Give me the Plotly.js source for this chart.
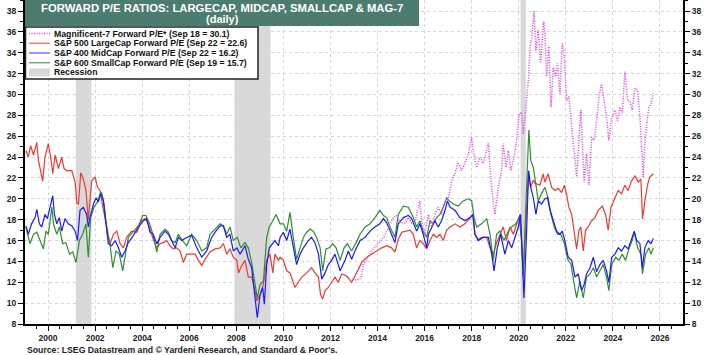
<!DOCTYPE html>
<html><head><meta charset="utf-8">
<script src="https://cdn.plot.ly/plotly-3.0.1.min.js"></script>
<style>html,body{margin:0;padding:0;background:#fff;}#chart{width:717px;height:355px;}</style>
</head><body><div id="chart"></div>
<script>
// ---------- DATA ----------
const chartTitle = "FORWARD P/E RATIOS: LARGECAP, MIDCAP, SMALLCAP & MAG-7";
const chartSubtitle = "(daily)";
const sourceText = "Source: LSEG Datastream and © Yardeni Research, and Standard & Poor's.";
const legendLabels = [
  "Magnificent-7 Forward P/E* (Sep 18 = 30.1)",
  "S&P 500 LargeCap Forward P/E (Sep 22 = 22.6)",
  "S&P 400 MidCap Forward P/E (Sep 22 = 16.2)",
  "S&P 600 SmallCap Forward P/E (Sep 19 = 15.7)",
  "Recession"
];
const recessionStart = [2001.18, 2007.92, 2020.08];
const recessionEnd   = [2001.84, 2009.45, 2020.30];

const spxYears = [1999.06,1999.16,1999.26,1999.38,1999.52,1999.59,1999.77,1999.87,2000.01,2000.11,2000.20,2000.30,2000.44,2000.58,2000.68,2000.79,2001.01,2001.15,2001.22,2001.29,2001.39,2001.50,2001.61,2001.71,2001.85,2002.00,2002.10,2002.21,2002.28,2002.46,2002.56,2002.63,2002.78,2002.92,2003.06,2003.20,2003.34,2003.55,2003.77,2003.98,2004.12,2004.26,2004.40,2004.47,2004.62,2004.76,2004.90,2005.04,2005.18,2005.32,2005.47,2005.61,2005.75,2005.89,2006.03,2006.25,2006.39,2006.53,2006.67,2006.88,2007.10,2007.31,2007.45,2007.59,2007.73,2007.87,2008.02,2008.09,2008.23,2008.37,2008.51,2008.65,2008.80,2008.87,2009.01,2009.15,2009.29,2009.43,2009.55,2009.64,2009.79,2009.86,2010.00,2010.14,2010.28,2010.49,2010.63,2010.78,2010.99,2011.20,2011.34,2011.49,2011.58,2011.67,2011.77,2011.91,2012.05,2012.19,2012.33,2012.48,2012.69,2012.90,2013.11,2013.33,2013.54,2013.75,2013.96,2014.18,2014.39,2014.60,2014.74,2014.88,2015.03,2015.17,2015.38,2015.52,2015.66,2015.80,2015.94,2016.09,2016.23,2016.37,2016.51,2016.65,2016.79,2016.94,2017.08,2017.29,2017.50,2017.71,2017.93,2018.07,2018.14,2018.28,2018.42,2018.64,2018.78,2018.92,2019.06,2019.20,2019.34,2019.48,2019.63,2019.77,2019.91,2020.05,2020.16,2020.22,2020.33,2020.41,2020.50,2020.62,2020.69,2020.90,2021.04,2021.11,2021.25,2021.40,2021.54,2021.68,2021.82,2021.94,2022.03,2022.13,2022.25,2022.36,2022.46,2022.56,2022.64,2022.74,2022.84,2022.95,2023.10,2023.24,2023.38,2023.55,2023.69,2023.80,2023.92,2024.09,2024.23,2024.37,2024.51,2024.65,2024.79,2024.94,2025.08,2025.19,2025.26,2025.36,2025.48,2025.57,2025.72];
const spxValues = [24.6,24.0,25.1,24.2,25.4,23.7,21.7,24.0,25.3,24.0,22.4,24.2,22.9,24.0,22.9,22.7,22.7,21.6,19.6,19.5,22.5,21.9,20.8,18.0,21.7,22.1,21.1,20.8,19.8,17.6,16.6,15.7,16.6,16.9,15.7,15.3,16.3,16.9,16.8,17.9,18.1,17.6,16.6,16.1,15.3,15.7,15.8,16.0,15.5,15.2,15.3,15.0,13.9,14.7,14.7,14.7,14.1,13.6,14.2,14.9,15.2,15.3,15.7,14.7,15.2,14.4,14.1,12.9,13.6,14.1,12.5,12.5,11.2,10.2,10.8,11.8,14.1,14.7,12.9,14.7,14.1,14.4,14.1,13.1,12.9,11.5,12.0,12.5,12.9,13.4,12.9,12.5,10.8,10.4,11.2,11.5,12.0,12.5,12.0,12.8,12.6,12.0,12.9,13.9,14.4,14.7,15.0,15.3,15.5,15.3,14.9,16.1,16.8,16.9,17.0,16.6,15.3,16.0,15.7,15.2,16.0,16.6,16.3,16.6,16.0,17.0,17.3,17.6,17.3,17.6,18.1,18.5,16.6,16.1,16.3,16.3,15.3,14.7,15.8,16.6,17.3,16.0,17.3,16.6,17.6,18.5,14.7,13.8,19.0,22.4,21.1,21.8,21.5,21.3,22.4,21.6,22.4,21.1,20.8,21.0,20.6,21.3,20.5,19.2,18.5,17.0,15.2,17.0,17.3,15.0,17.0,17.3,17.9,18.2,18.9,19.3,18.5,17.0,19.2,20.1,20.8,20.5,21.3,20.8,21.7,22.2,21.6,21.9,18.1,19.8,21.4,22.1,22.4];

const midYears = [1999.06,1999.16,1999.30,1999.45,1999.52,1999.63,1999.73,1999.87,1999.97,2000.08,2000.20,2000.27,2000.37,2000.48,2000.58,2000.72,2000.86,2001.01,2001.15,2001.25,2001.36,2001.50,2001.64,2001.71,2001.78,2001.93,2002.04,2002.14,2002.24,2002.35,2002.46,2002.56,2002.70,2002.85,2002.99,2003.13,2003.27,2003.41,2003.63,2003.84,2004.05,2004.19,2004.33,2004.47,2004.62,2004.76,2004.97,2005.11,2005.25,2005.40,2005.54,2005.68,2005.89,2006.10,2006.32,2006.53,2006.74,2006.95,2007.10,2007.31,2007.45,2007.59,2007.73,2007.87,2008.02,2008.16,2008.37,2008.51,2008.65,2008.80,2008.89,2009.01,2009.12,2009.19,2009.29,2009.40,2009.55,2009.64,2009.79,2009.86,2010.00,2010.14,2010.28,2010.42,2010.56,2010.71,2010.85,2011.06,2011.20,2011.34,2011.49,2011.63,2011.77,2011.91,2012.05,2012.19,2012.41,2012.62,2012.76,2012.90,2013.04,2013.26,2013.47,2013.68,2013.89,2014.10,2014.25,2014.39,2014.53,2014.74,2014.88,2015.10,2015.31,2015.45,2015.66,2015.80,2015.94,2016.09,2016.16,2016.30,2016.44,2016.58,2016.72,2016.87,2016.97,2017.08,2017.29,2017.50,2017.71,2017.93,2018.04,2018.14,2018.28,2018.49,2018.71,2018.85,2018.95,2019.09,2019.23,2019.41,2019.56,2019.70,2019.84,2019.98,2020.08,2020.16,2020.22,2020.33,2020.42,2020.51,2020.62,2020.73,2020.83,2020.97,2021.11,2021.22,2021.32,2021.47,2021.61,2021.75,2021.85,2021.96,2022.10,2022.25,2022.39,2022.53,2022.67,2022.78,2022.88,2023.03,2023.17,2023.31,2023.45,2023.59,2023.73,2023.83,2023.95,2024.09,2024.23,2024.37,2024.51,2024.65,2024.77,2024.91,2025.01,2025.15,2025.25,2025.36,2025.50,2025.62,2025.72];
const midValues = [17.4,16.6,17.6,18.2,19.0,17.6,17.3,18.5,18.1,19.2,20.3,18.5,17.6,18.2,16.9,18.1,17.6,17.4,16.9,16.0,18.9,19.2,18.5,17.3,18.2,19.5,20.1,19.7,20.5,19.8,17.6,15.7,15.5,16.0,15.3,14.4,15.0,15.8,16.5,17.3,17.9,18.1,16.8,16.6,15.7,16.3,16.9,16.6,16.0,15.3,16.3,16.0,16.3,16.5,15.3,14.4,15.0,16.3,16.8,17.4,17.4,16.3,16.6,15.0,15.3,14.7,15.5,14.2,13.4,10.5,8.6,10.8,11.5,9.9,13.7,15.3,15.7,16.0,15.5,16.3,16.8,16.0,17.1,15.3,13.7,14.7,15.3,16.0,16.3,15.8,14.7,12.3,12.9,13.7,14.1,14.7,13.1,14.1,15.0,14.2,15.0,16.0,16.3,16.9,17.3,17.6,18.1,17.7,16.9,15.8,17.6,18.2,18.4,18.1,16.9,17.6,16.6,15.3,16.6,17.3,17.9,17.3,17.9,18.9,19.8,19.2,18.9,18.2,17.9,18.2,18.5,16.6,16.0,16.3,16.3,14.7,13.1,15.3,16.6,14.7,16.0,15.3,16.3,17.3,18.5,13.4,10.5,16.6,22.7,21.1,20.1,18.5,19.8,19.5,20.0,20.1,19.0,17.9,16.9,16.6,16.9,16.0,14.4,14.1,12.5,12.8,11.2,11.8,12.8,13.4,14.4,13.0,13.7,14.1,13.1,12.0,14.4,14.7,15.3,15.0,15.5,15.2,16.0,16.9,16.0,15.7,13.4,15.3,16.0,15.7,16.2];

const smlYears = [1999.06,1999.16,1999.23,1999.38,1999.52,1999.66,1999.80,1999.91,2000.01,2000.16,2000.23,2000.37,2000.48,2000.62,2000.76,2000.91,2001.05,2001.19,2001.33,2001.47,2001.61,2001.71,2001.81,2001.95,2002.10,2002.21,2002.28,2002.38,2002.52,2002.63,2002.75,2002.89,2003.03,2003.17,2003.27,2003.41,2003.63,2003.84,2004.02,2004.16,2004.30,2004.47,2004.62,2004.76,2004.97,2005.11,2005.25,2005.40,2005.54,2005.68,2005.89,2006.10,2006.32,2006.53,2006.74,2006.88,2007.10,2007.31,2007.45,2007.59,2007.73,2007.87,2008.04,2008.19,2008.37,2008.51,2008.65,2008.80,2008.89,2009.01,2009.15,2009.29,2009.40,2009.55,2009.69,2009.86,2010.00,2010.14,2010.28,2010.42,2010.56,2010.71,2010.85,2010.99,2011.13,2011.27,2011.41,2011.56,2011.67,2011.81,2011.95,2012.09,2012.24,2012.41,2012.58,2012.72,2012.90,2013.09,2013.26,2013.47,2013.68,2013.89,2014.10,2014.25,2014.39,2014.53,2014.74,2014.88,2015.10,2015.31,2015.52,2015.66,2015.80,2015.94,2016.09,2016.23,2016.37,2016.51,2016.65,2016.79,2016.94,2017.05,2017.22,2017.43,2017.64,2017.86,2018.00,2018.10,2018.21,2018.42,2018.64,2018.78,2018.92,2019.06,2019.20,2019.37,2019.56,2019.70,2019.88,2020.02,2020.12,2020.19,2020.27,2020.36,2020.43,2020.51,2020.62,2020.73,2020.83,2020.97,2021.11,2021.25,2021.37,2021.51,2021.65,2021.79,2021.94,2022.08,2022.22,2022.36,2022.46,2022.60,2022.74,2022.88,2023.03,2023.17,2023.31,2023.45,2023.59,2023.73,2023.83,2023.95,2024.12,2024.26,2024.40,2024.54,2024.68,2024.82,2024.91,2025.05,2025.19,2025.26,2025.39,2025.53,2025.62,2025.72];
const smlValues = [17.3,16.3,15.7,16.6,16.8,16.0,15.2,16.9,16.6,19.2,17.6,16.6,17.3,15.7,15.8,14.7,14.9,13.9,16.0,16.6,17.6,14.4,18.2,19.2,19.7,20.5,20.6,19.5,16.6,15.7,13.4,15.0,14.7,13.1,14.4,16.3,16.9,17.4,18.4,18.4,17.7,16.5,14.9,16.6,17.1,16.8,16.0,15.8,16.6,16.1,15.5,16.6,16.0,15.0,15.3,16.6,17.1,17.6,17.4,16.6,17.3,16.0,16.3,15.3,15.8,15.3,13.9,11.8,10.5,11.8,12.1,16.3,17.3,17.9,18.5,17.6,17.6,16.9,18.7,16.3,14.2,15.3,16.3,16.8,17.1,16.9,16.3,15.3,13.1,15.2,15.3,15.7,15.3,14.1,15.3,15.7,15.0,15.8,16.6,17.3,17.6,18.2,18.9,18.4,18.2,17.3,16.3,18.5,19.3,19.2,18.2,17.3,17.9,16.9,16.3,17.9,17.6,18.2,18.5,19.2,20.1,19.8,19.5,19.3,19.8,20.0,19.8,18.2,17.3,17.6,18.1,16.6,14.1,16.6,16.9,16.0,16.9,17.3,17.6,18.2,16.0,12.5,16.6,22.7,26.6,23.7,23.0,21.1,19.8,20.5,21.1,20.1,18.5,17.3,16.6,16.6,15.7,14.2,13.7,11.8,10.5,12.1,10.5,12.5,12.8,13.4,12.5,13.1,13.7,12.5,11.2,13.7,14.4,14.1,14.7,14.1,15.2,16.0,16.8,15.3,14.7,12.8,14.7,15.3,14.7,15.3];

const mag7Years = [2012.94,2013.10,2013.30,2013.40,2013.75,2014.25,2014.39,2014.53,2014.67,2014.81,2014.95,2015.17,2015.31,2015.45,2015.62,2015.80,2015.87,2016.01,2016.16,2016.30,2016.44,2016.58,2016.72,2016.87,2017.01,2017.15,2017.29,2017.43,2017.57,2017.71,2017.86,2018.00,2018.07,2018.21,2018.35,2018.49,2018.61,2018.71,2018.78,2018.89,2018.99,2019.13,2019.27,2019.34,2019.46,2019.56,2019.66,2019.80,2019.91,2020.02,2020.12,2020.19,2020.31,2020.41,2020.48,2020.55,2020.65,2020.73,2020.83,2020.93,2021.00,2021.06,2021.11,2021.18,2021.28,2021.37,2021.47,2021.57,2021.65,2021.75,2021.85,2021.93,2022.03,2022.13,2022.25,2022.36,2022.46,2022.53,2022.64,2022.70,2022.78,2022.88,2022.98,2023.10,2023.21,2023.31,2023.41,2023.52,2023.63,2023.73,2023.83,2023.95,2024.09,2024.20,2024.30,2024.40,2024.51,2024.63,2024.72,2024.82,2024.94,2025.05,2025.15,2025.22,2025.29,2025.36,2025.43,2025.53,2025.62,2025.71];
const mag7Values = [12.3,12.2,12.4,13.7,15.0,16.3,16.9,17.6,18.2,18.4,17.7,17.7,18.2,17.7,18.0,19.8,17.9,16.6,18.5,17.3,18.5,19.2,18.5,19.8,20.0,21.7,22.4,23.5,22.7,23.4,24.3,25.9,24.6,23.0,24.0,23.4,24.6,25.3,23.0,20.1,18.5,21.1,22.7,25.3,23.0,24.6,22.7,24.0,25.6,28.2,28.3,26.2,28.8,31.4,34.6,35.5,38.0,34.2,36.2,33.0,35.2,37.0,36.0,31.7,34.6,28.8,32.6,31.7,33.0,30.1,34.9,33.9,29.4,29.8,26.9,24.0,22.1,24.6,28.5,25.6,21.6,24.3,21.3,25.9,25.6,27.5,29.8,31.0,29.4,27.8,25.6,27.8,28.5,27.5,28.8,28.2,32.2,29.4,29.4,28.5,30.6,30.4,27.8,25.0,22.1,25.6,27.2,28.8,29.1,30.1];

const seriesColors = ["#f03cf0", "#ee3b32", "#1a1aff", "#2f8f2f"];

// ---------- LAYOUT HELPERS ----------
const W = 717, H = 355;
const M = {l: 25, r: 34, t: 0, b: 31};
const PW = W - M.l - M.r, PH = H - M.t - M.b;
const px = x => (x - M.l) / PW;          // pixel -> paper x
const py = y => (PH + M.t - y) / PH;     // pixel -> paper y
const FONT = "Arial, 'Liberation Sans', sans-serif";

const traces = [
  {x: spxYears, y: spxValues, type: "scatter", mode: "lines", line: {color: seriesColors[1], width: 1.2}, showlegend: false, hoverinfo: "skip"},
  {x: smlYears, y: smlValues, type: "scatter", mode: "lines", line: {color: seriesColors[3], width: 1.2}, showlegend: false, hoverinfo: "skip"},
  {x: midYears, y: midValues, type: "scatter", mode: "lines", line: {color: seriesColors[2], width: 1.2}, showlegend: false, hoverinfo: "skip"},
  {x: mag7Years, y: mag7Values, type: "scatter", mode: "lines", line: {color: seriesColors[0], width: 1.5, dash: "1px,1.5px"}, showlegend: false, hoverinfo: "skip"},
  {x: [spxYears[0]], y: [spxValues[0]], yaxis: "y2", type: "scatter", mode: "lines", line: {width: 0}, showlegend: false, hoverinfo: "skip"}
];

const shapes = [];
for (let i = 0; i < recessionStart.length; i++) {
  shapes.push({type: "rect", xref: "x", yref: "paper", x0: recessionStart[i], x1: recessionEnd[i], y0: 0, y1: 1,
    fillcolor: "#d9d9d9", line: {width: 0}, layer: "below"});
}
// title box
shapes.push({type: "rect", xref: "paper", yref: "paper", x0: px(25), x1: px(419), y0: py(26), y1: py(-2),
  fillcolor: "#4b7c6f", line: {width: 0}});
// legend box
shapes.push({type: "rect", xref: "paper", yref: "paper", x0: px(25.5), x1: px(258), y0: py(79), y1: py(27),
  fillcolor: "#ffffff", line: {color: "#222", width: 1.5}});
const rowY = [33.5, 43.3, 53.0, 62.7, 72.4];
const legendLineStyles = [
  {color: seriesColors[0], width: 1.3, dash: "1px,1.5px"},
  {color: "#f07a72", width: 1.5},
  {color: "#7878ff", width: 1.5},
  {color: "#6aac6a", width: 1.5}
];
for (let i = 0; i < 4; i++) {
  shapes.push({type: "line", xref: "paper", yref: "paper", x0: px(29), x1: px(50), y0: py(rowY[i]), y1: py(rowY[i]), line: legendLineStyles[i]});
}
shapes.push({type: "rect", xref: "paper", yref: "paper", x0: px(29), x1: px(50), y0: py(rowY[4] + 4), y1: py(rowY[4] - 4),
  fillcolor: "#d9d9d9", line: {width: 0}});

const annotations = [
  {text: chartTitle, xref: "paper", yref: "paper", x: px(222), y: py(7.6), xanchor: "center", yanchor: "middle", showarrow: false,
    borderpad: 0, font: {family: FONT, size: 11.3, color: "#ffffff", weight: "bold"}},
  {text: chartSubtitle, xref: "paper", yref: "paper", x: px(222), y: py(19), xanchor: "center", yanchor: "middle", showarrow: false,
    borderpad: 0, font: {family: FONT, size: 11, color: "#ffffff", weight: "bold"}},
  {text: sourceText, xref: "paper", yref: "paper", x: px(25), y: py(349.5), xanchor: "left", yanchor: "middle", showarrow: false,
    font: {family: FONT, size: 8.7, color: "#222", weight: "bold"}}
];
for (let i = 0; i < legendLabels.length; i++) {
  annotations.push({text: legendLabels[i], xref: "paper", yref: "paper", x: px(52), y: py(rowY[i]), xanchor: "left", yanchor: "middle",
    showarrow: false, font: {family: FONT, size: 8.7, color: "#111", weight: "bold"}});
}

const tickFont = {family: FONT, size: 8.5, color: "#222", weight: "bold"};
const yTop = 38 + 11 / 10.4;
const yCommon = {
  range: [8, yTop], dtick: 2, tick0: 0, showline: true, linecolor: "#000", linewidth: 2,
  ticks: "outside", ticklen: 5, tickcolor: "#000", tickwidth: 1, tickfont: tickFont, zeroline: false,
  minor: {dtick: 1, ticklen: 3, tickcolor: "#000", showgrid: false}
};

const layout = {
  width: W, height: H, margin: M, paper_bgcolor: "#fff", plot_bgcolor: "#fff", showlegend: false,
  font: {family: FONT},
  xaxis: {
    range: [1999.02, 2026.98], dtick: 2, tick0: 2000, tickformat: "d", showline: true, linecolor: "#000", linewidth: 2,
    ticks: "outside", ticklen: 5, tickcolor: "#000", tickfont: tickFont, zeroline: false,
    showgrid: true, gridcolor: "#d6d6d6", griddash: "dot", gridwidth: 1,
    minor: {dtick: 0.5, ticklen: 3, tickcolor: "#000", showgrid: false}
  },
  yaxis: Object.assign({}, yCommon, {side: "left", showgrid: true, gridcolor: "#d6d6d6", griddash: "dot", gridwidth: 1}),
  yaxis2: Object.assign({}, yCommon, {side: "right", overlaying: "y", showgrid: false}),
  shapes: shapes,
  annotations: annotations
};

Plotly.newPlot("chart", traces, layout, {staticPlot: true, displayModeBar: false});
</script>
</body></html>
